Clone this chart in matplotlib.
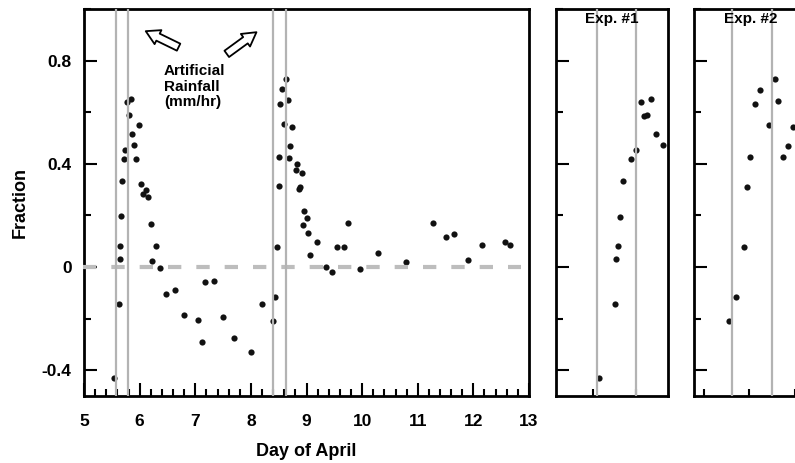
import matplotlib
matplotlib.use("Agg")
import matplotlib.pyplot as plt
from matplotlib.ticker import MultipleLocator, NullFormatter

plt.rcParams["font.family"] = ["Liberation Sans", "DejaVu Sans"]
plt.rcParams["font.weight"] = "bold"

# full record, day of April vs fraction
main_day = [5.53, 5.635, 5.64, 5.65, 5.665, 5.68, 5.71, 5.73, 5.78, 5.80, 5.845,
            5.86, 5.89, 5.94, 5.98, 6.025, 6.067, 6.115, 6.157, 6.20, 6.23, 6.29,
            6.37, 6.48, 6.64, 6.79, 7.05, 7.12, 7.18, 7.34, 7.49, 7.69, 8.01,
            8.20, 8.40, 8.435, 8.47, 8.50, 8.51, 8.53, 8.56, 8.60, 8.64, 8.66,
            8.69, 8.71, 8.735, 8.81, 8.83, 8.87, 8.89, 8.91, 8.93, 8.96, 9.00,
            9.03, 9.06, 9.19, 9.35, 9.46, 9.54, 9.67, 9.75, 9.96, 10.29, 10.79,
            11.28, 11.50, 11.65, 11.91, 12.16, 12.57, 12.66]
main_frac = [-0.43, -0.142, 0.030, 0.081, 0.196, 0.333, 0.42, 0.453, 0.639, 0.59, 0.650,
             0.516, 0.474, 0.42, 0.549, 0.32, 0.284, 0.30, 0.27, 0.166, 0.025, 0.081,
             -0.002, -0.103, -0.091, -0.187, -0.205, -0.29, -0.059, -0.055, -0.192, -0.276, -0.329,
             -0.142, -0.21, -0.115, 0.077, 0.312, 0.426, 0.633, 0.689, 0.555, 0.729, 0.647,
             0.423, 0.469, 0.542, 0.374, 0.401, 0.303, 0.309, 0.365, 0.164, 0.218, 0.189,
             0.130, 0.046, 0.098, 0.001, -0.021, 0.076, 0.077, 0.169, -0.008, 0.056, 0.018,
             0.169, 0.115, 0.129, 0.027, 0.087, 0.098, 0.087]
rain_main = [5.575, 5.785, 8.39, 8.64]

# experiment close-ups
exp1_day = [5.531, 5.624, 5.632, 5.645, 5.653, 5.673, 5.721, 5.750, 5.779, 5.797,
            5.814, 5.837, 5.866, 5.905]
exp1_frac = [-0.43, -0.142, 0.031, 0.081, 0.192, 0.333, 0.418, 0.453, 0.640, 0.587,
             0.59, 0.650, 0.516, 0.472]
rain_exp1 = [5.523, 5.75]

exp2_day = [8.388, 8.427, 8.471, 8.489, 8.506, 8.533, 8.559, 8.607, 8.640, 8.660,
            8.685, 8.712, 8.740, 8.81]
exp2_frac = [-0.211, -0.115, 0.079, 0.311, 0.426, 0.633, 0.687, 0.552, 0.729, 0.645,
             0.425, 0.468, 0.542, 0.374]
rain_exp2 = [8.404, 8.625]

dot_color = "#111111"
rain_color = "#b3b3b3"
dot_size = 20

fig = plt.figure(figsize=(7.95, 4.63), dpi=100)
ax = fig.add_axes([0.1057, 0.1447, 0.5597, 0.8359])
ax1 = fig.add_axes([0.699, 0.1447, 0.1409, 0.8359])
ax2 = fig.add_axes([0.8733, 0.1447, 0.1409, 0.8359])


def style(a):
    for s in a.spines.values():
        s.set_linewidth(2.0)
    a.set_ylim(-0.5, 1.0)
    a.yaxis.set_major_locator(MultipleLocator(0.4))
    a.yaxis.set_minor_locator(MultipleLocator(0.2))
    a.tick_params(which="both", direction="in", width=1.5, top=False, right=False)
    a.tick_params(which="major", length=9.4)
    a.tick_params(which="minor", length=5)


# main panel
style(ax)
ax.set_xlim(5, 13)
ax.xaxis.set_major_locator(MultipleLocator(1))
ax.xaxis.set_minor_locator(MultipleLocator(0.2))
ax.tick_params(axis="y", which="major", pad=9, labelsize=12.5)
ax.tick_params(axis="x", which="major", pad=13, labelsize=12.5)
ax.set_yticks([-0.4, 0, 0.4, 0.8])
ax.set_yticklabels(["-0.4", "0", "0.4", "0.8"])
# dashed zero line sits on top of the y tick at 0, like in the original
ax.plot([4.99, 12.85], [0, 0], color="#bdbdbd", lw=3,
        linestyle=(0, (3.2, 3.6)), zorder=2.6, clip_on=False)
ax.scatter(main_day, main_frac, s=dot_size, color=dot_color, linewidths=0, zorder=2)
for d in rain_main:
    ax.axvline(d, color=rain_color, lw=1.6, zorder=3)
ax.set_xlabel("Day of April", fontsize=13, fontweight="bold", labelpad=10)
ax.set_ylabel("Fraction", fontsize=13, fontweight="bold", labelpad=9)

ax.text(6.44, 0.785, "Artificial\nRainfall\n(mm/hr)", fontsize=11, fontweight="bold",
        ha="left", va="top", linespacing=1.1)
arrow = dict(arrowstyle="simple,head_length=0.7,head_width=0.8,tail_width=0.4",
             fc="white", ec="black", lw=1.3, shrinkA=0, shrinkB=0, mutation_scale=14)
ax.annotate("", xy=(6.11, 0.914), xytext=(6.70, 0.852), arrowprops=arrow)
ax.annotate("", xy=(8.10, 0.91), xytext=(7.566, 0.826), arrowprops=arrow)

# Exp. #1
style(ax1)
ax1.set_xlim(5.2814, 5.9326)
ax1.set_xticks([5.5, 5.75])
ax1.xaxis.set_minor_locator(plt.NullLocator())
ax1.tick_params(axis="x", length=5)
ax1.xaxis.set_major_formatter(NullFormatter())
ax1.yaxis.set_major_formatter(NullFormatter())
ax1.scatter(exp1_day, exp1_frac, s=dot_size, color=dot_color, linewidths=0, zorder=2)
for d in rain_exp1:
    ax1.axvline(d, color=rain_color, lw=1.6, zorder=3)
ax1.text(0.5, 0.974, "Exp. #1", transform=ax1.transAxes, ha="center", va="center",
         fontsize=11, fontweight="bold")

# Exp. #2 (runs off the right edge of the figure)
style(ax2)
ax2.set_xlim(8.196, 8.815)
ax2.set_xticks([8.25, 8.5, 8.75])
ax2.xaxis.set_minor_locator(plt.NullLocator())
ax2.tick_params(axis="x", length=5)
ax2.xaxis.set_major_formatter(NullFormatter())
ax2.yaxis.set_major_formatter(NullFormatter())
ax2.scatter(exp2_day, exp2_frac, s=dot_size, color=dot_color, linewidths=0, zorder=2)
for d in rain_exp2:
    ax2.axvline(d, color=rain_color, lw=1.6, zorder=3)
ax2.text(0.5, 0.974, "Exp. #2", transform=ax2.transAxes, ha="center", va="center",
         fontsize=11, fontweight="bold")

fig.savefig("out.png", dpi=100)
